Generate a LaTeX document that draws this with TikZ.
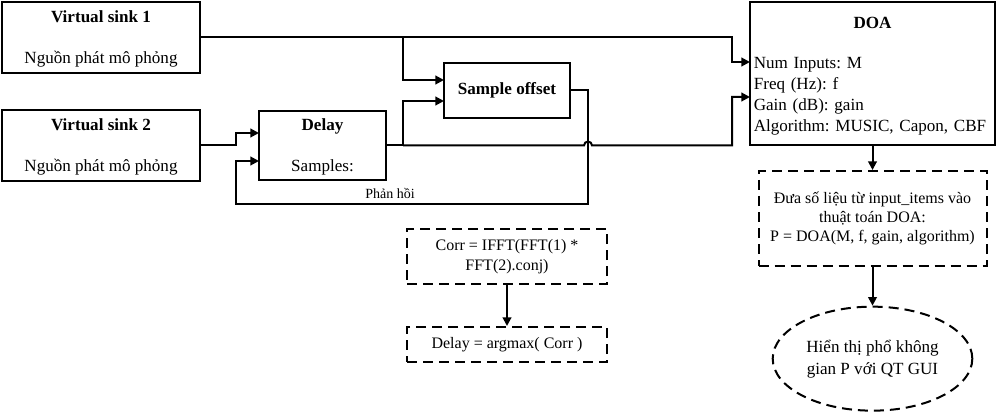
\documentclass[tikz,border=0pt]{standalone}
\usepackage{fontspec}
\setmainfont{Liberation Serif}
\usetikzlibrary{positioning,calc,arrows.meta,shapes.geometric}
\frenchspacing

\begin{document}
\begin{tikzpicture}[x=0.75pt, y=-0.75pt, line width=1.5pt,
	>={Triangle[length=6.5pt,width=6.5pt]},
	block/.style={draw, rectangle, align=center, inner sep=2pt, font=\fontsize{12.8}{15.75}\selectfont},
	dashbox/.style={draw, rectangle, dash pattern=on 7.5pt off 4.5pt, align=center, font=\fontsize{12}{14}\selectfont}]
	\useasboundingbox (0,0) rectangle (998,413);

	\node[block, minimum width=148.5pt, minimum height=53.25pt] (vs1) at (101,37.5) {\rule{0pt}{11.5pt}\textbf{Virtual sink 1}\\[15pt]Nguồn phát mô phỏng};
	\node[block, minimum width=148.5pt, minimum height=53.25pt] (vs2) at (101,145.5) {\rule{0pt}{11.5pt}\textbf{Virtual sink 2}\\[15pt]Nguồn phát mô phỏng};
	\node[block, minimum width=95.25pt, minimum height=51.75pt] (delay) at (322.5,145.5) {\rule{0pt}{11.5pt}\textbf{Delay}\\[15pt]Samples:};
	\node[block, minimum width=94.5pt, minimum height=41.25pt] (offset) at (507,90.5) {\textbf{Sample offset}};
	\node[block, minimum width=183.75pt, minimum height=107.25pt, text width=178pt, align=left, inner xsep=2.5pt] (doa) at (872.5,73.5)
		{\rule{0pt}{13pt}\hfill\textbf{DOA}\hfill\null\\[14.25pt]Num Inputs: M\\Freq (Hz): f\\Gain (dB): gain\\Algorithm: MUSIC, Capon, CBF};

	\node[dashbox, minimum width=171pt, minimum height=71.25pt, below=18pt of doa] (calc) {Đưa số liệu từ input\_items vào\\thuật toán DOA:\\P = DOA(M, f, gain, algorithm)};
	\node[dashbox, ellipse, minimum width=149.25pt, minimum height=78pt, font=\fontsize{12.8}{16.5}\selectfont, below=29pt of calc] (gui) {Hiển thị phổ không\\gian P với QT GUI};
	\node[dashbox, minimum width=150pt, minimum height=41.25pt, font=\fontsize{12}{15}\selectfont] (corr) at (507,256.5) {Corr = IFFT(FFT(1) *\\FFT(2).conj)};
	\node[dashbox, minimum width=150pt, minimum height=26.25pt, below=30.75pt of corr] (argmax) {Delay = argmax( Corr )};

	\coordinate (bus-a) at (403,0);
	\coordinate (bus-b) at (732,0);
	\coordinate (bus-c) at (236,0);
	\coordinate (bus-d) at (588,204);
	\coordinate (doa-in1) at (750,62);
	\coordinate (doa-in2) at (750,97);
	\coordinate (off-in1) at (444,80);
	\coordinate (off-in2) at (444,101);
	\coordinate (del-in1) at (259,133);
	\coordinate (del-in2) at (259,161);

	\draw[->] (vs1.east) -- (vs1.east -| bus-b) |- (doa-in1);
	\draw[->] (vs1.east -| bus-a) |- (off-in1);
	\draw[->] (vs2.east) -- (vs2.east -| bus-c) |- (del-in1);
	\draw[->] (delay.east) -- (delay.east -| bus-a) |- (off-in2);
	\draw[->] (delay.east -| bus-a) -- ($(delay.east -| bus-d)+(-4,0)$) arc[start angle=180, end angle=0, radius=3pt]
		-- (delay.east -| bus-b) |- (doa-in2);
	\draw[->] (offset.east) -| (bus-d) -- node[pos=0.5625, above, font=\fontsize{10.5}{12}\selectfont] {Phản hồi} (bus-d -| bus-c) |- (del-in2);
	\draw[->] (doa) -- (calc);
	\draw[->] (calc) -- (gui);
	\draw[->] (corr) -- (argmax);
\end{tikzpicture}
\end{document}
